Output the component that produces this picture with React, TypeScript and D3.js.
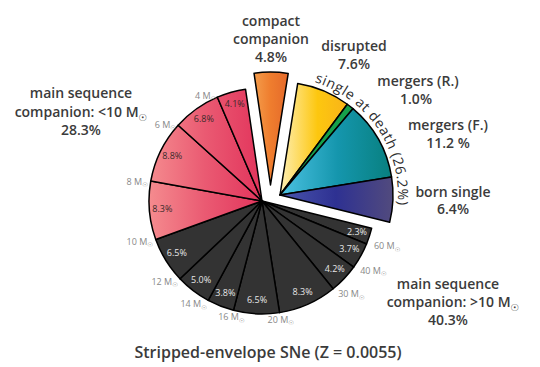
import React from "react";
import * as d3 from "d3";

const width = 540;
const height = 367;

// clockwise, starting at the >60 Msun wedge
const msHighValues = [2.3, 3.7, 4.2, 8.3, 6.5, 3.8, 5.0, 6.5];
const msLowValues = [8.3, 8.8, 6.8, 4.1];
const compactValues = [4.8];
const singleValues = [7.6, 1.0, 11.2, 6.4];
const singleNames = ["disrupted", "mergersR", "mergersF", "born"];
// mass at the boundary after each wedge
const massTicks = ["60", "40", "30", "20", "16", "14", "12", "10", "8", "6", "4"];

const deg = Math.PI / 180;
const R = 113;
const center = { x: 262, y: 201 };
const offsets: Record<string, [number, number]> = {
  high: [0, 0],
  low: [0, 0],
  compact: [8.5, -16],
  single: [18, -6],
};

type Slice = { group: string; value: number; name: string };

const slices: Slice[] = [
  ...msHighValues.map((v) => ({ group: "high", value: v, name: "high" })),
  ...msLowValues.map((v) => ({ group: "low", value: v, name: "low" })),
  ...compactValues.map((v) => ({ group: "compact", value: v, name: "compact" })),
  ...singleValues.map((v, i) => ({ group: "single", value: v, name: singleNames[i] })),
];

const start = 104 * deg;
const pie = d3
  .pie<Slice>()
  .sort(null)
  .value((d) => d.value)
  .startAngle(start)
  .endAngle(start + 2 * Math.PI);
const arcs = pie(slices);

const arc = d3.arc<d3.PieArcDatum<Slice>>().innerRadius(0).outerRadius(R);
const labelArc = d3.arc<d3.PieArcDatum<Slice>>().innerRadius(100).outerRadius(100);

const fills: Record<string, string> = {
  high: "#333333",
  low: "url(#gPink)",
  compact: "url(#gOrange)",
  disrupted: "url(#gYellow)",
  mergersR: "#16a04b",
  mergersF: "url(#gTeal)",
  born: "url(#gBlue)",
};

const polar = (a: number, r: number) => [Math.sin(a) * r, -Math.cos(a) * r];

const textColor = "#3b3b3b";
const font = "'Open Sans', 'DejaVu Sans', sans-serif";

function Msun({ size }: { size: number }) {
  return (
    <tspan fontSize={size * 0.7} dy={size * 0.3}>
      ☉
    </tspan>
  );
}

// gradients are in each wedge group's own (translated) space
function Grad({ id, x1, x2, stops }: { id: string; x1: number; x2: number; stops: string[] }) {
  return (
    <linearGradient id={id} gradientUnits="userSpaceOnUse" x1={x1} x2={x2} y1={0} y2={0}>
      {stops.map((c, i) => (
        <stop key={i} offset={i / (stops.length - 1)} stopColor={c} />
      ))}
    </linearGradient>
  );
}

export default function App() {
  const sc = offsets.single;
  const scx = center.x + sc[0];
  const scy = center.y + sc[1];
  const curve = d3.path();
  curve.arc(scx, scy, 118, 17 * deg - Math.PI / 2, 118 * deg - Math.PI / 2);

  return (
    <svg
      width={width}
      height={height}
      style={{ position: "absolute", left: 0, top: 0, background: "#fff" }}
      fontFamily={font}
    >
      <defs>
        <Grad id="gPink" x1={-114} x2={0} stops={["#f58c8f", "#ea5a72", "#e2345c"]} />
        <Grad id="gOrange" x1={-19} x2={19} stops={["#f5a250", "#ef7d2e", "#e4682a"]} />
        <Grad id="gYellow" x1={0} x2={75} stops={["#feefb4", "#fdc70f", "#f7ae1c"]} />
        <Grad id="gTeal" x1={0} x2={115} stops={["#4cc2e2", "#1596ad", "#077e7c"]} />
        <Grad id="gBlue" x1={0} x2={112} stops={["#4a55ad", "#2e3192", "#514a7e"]} />
      </defs>

      {arcs.map((a, i) => {
        const [dx, dy] = offsets[a.data.group];
        return (
          <path
            key={i}
            d={arc(a) || ""}
            transform={`translate(${center.x + dx},${center.y + dy})`}
            fill={fills[a.data.name]}
            stroke="#000"
            strokeWidth={1.5}
            strokeLinejoin="round"
          />
        );
      })}

      {/* percentages in the companion wedges */}
      {arcs
        .filter((a) => a.data.group === "high" || a.data.group === "low")
        .map((a, i) => {
          const [x, y] = labelArc.centroid(a);
          return (
            <text
              key={i}
              x={center.x + x}
              y={center.y + y}
              textAnchor="middle"
              dominantBaseline="middle"
              fontSize={9}
              fill={a.data.group === "high" ? "#e6e6e6" : "#3a2a2a"}
            >
              {a.data.value.toFixed(1)}%
            </text>
          );
        })}

      {/* mass boundaries */}
      {massTicks.map((m, i) => {
        const ang = arcs[i].endAngle;
        const s = Math.sin(ang);
        const anchor = s > 0.3 ? "start" : s < -0.3 ? "end" : "middle";
        const [x, y] = polar(ang, anchor === "end" ? 116 : 121);
        return (
          <text
            key={m}
            x={center.x + x}
            y={center.y + y + (anchor === "end" ? 2 : 0)}
            textAnchor={anchor}
            dominantBaseline="middle"
            fontSize={9}
            fill="#888"
          >
            {m} M<Msun size={9} />
          </text>
        );
      })}

      {/* curved group label */}
      <path id="sadPath" d={curve.toString()} fill="none" />
      <text fontSize={14} fontWeight={500} fill="#2b2b2b" letterSpacing={0.6}>
        <textPath href="#sadPath" startOffset="0">
          single at death (26.2%)
        </textPath>
      </text>

      <g fontSize={14} fontWeight={600} fill={textColor} textAnchor="middle">
        <text x={271} y={26}>compact</text>
        <text x={271} y={44}>companion</text>
        <text x={271} y={62}>4.8%</text>

        <text x={354} y={51}>disrupted</text>
        <text x={354} y={69}>7.6%</text>

        <text x={418} y={86}>mergers (R.)</text>
        <text x={416} y={104}>1.0%</text>

        <text x={448} y={130}>mergers (F.)</text>
        <text x={448} y={148}>11.2 %</text>

        <text x={453} y={197}>born single</text>
        <text x={453} y={214}>6.4%</text>

        <text x={81} y={98}>main sequence</text>
        <text x={81} y={117}>
          companion: &lt;10 M<Msun size={14} />
        </text>
        <text x={81} y={135}>28.3%</text>

        <text x={448} y={289}>main sequence</text>
        <text x={453} y={307}>
          companion: &gt;10 M<Msun size={14} />
        </text>
        <text x={448} y={325}>40.3%</text>

        <text x={268} y={358} fontSize={16}>
          Stripped-envelope SNe (Z = 0.0055)
        </text>
      </g>
    </svg>
  );
}
